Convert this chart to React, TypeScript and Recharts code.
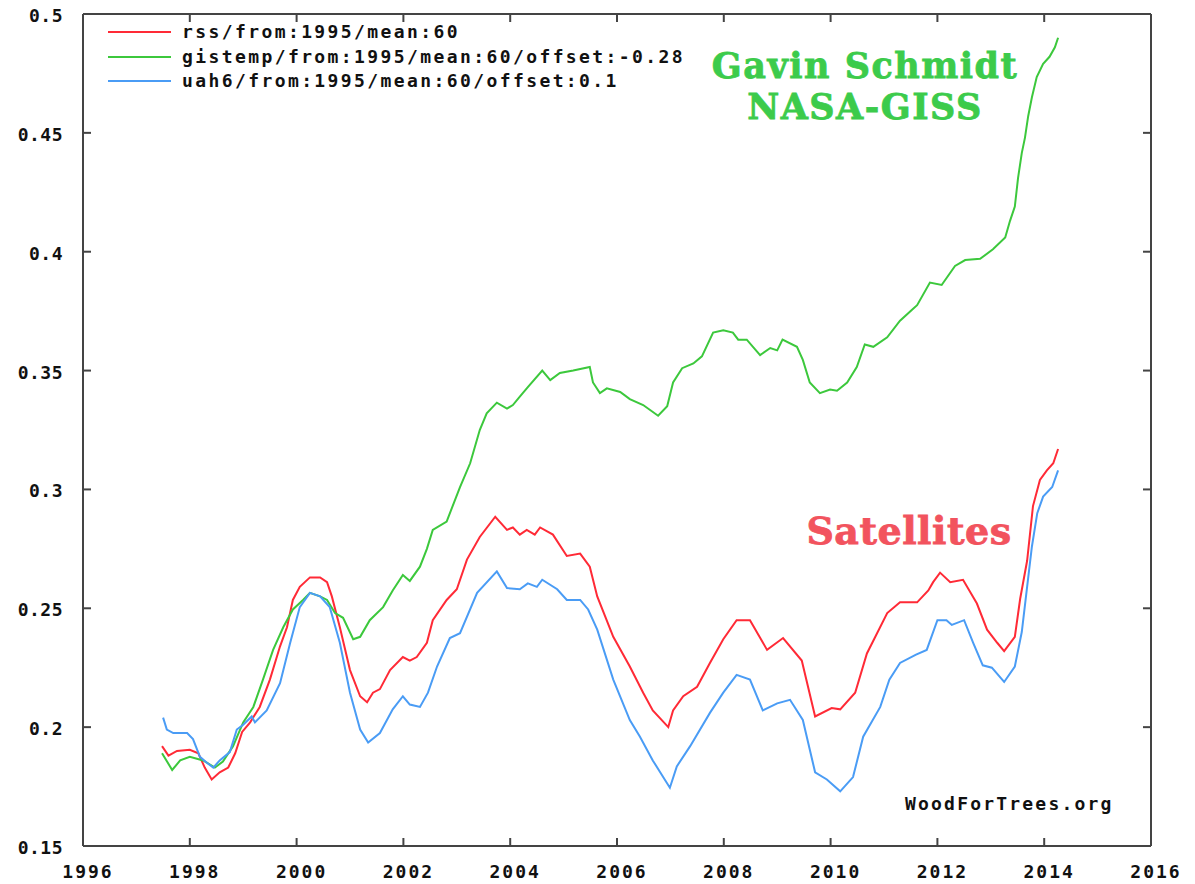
import React from 'react';
import { LineChart, Line, XAxis, YAxis, Legend } from 'recharts';

// woodfortrees 60-month means as [year, value]
const xTicks = [1996, 1998, 2000, 2002, 2004, 2006, 2008, 2010, 2012, 2014, 2016];
const yTicks = [0.15, 0.2, 0.25, 0.3, 0.35, 0.4, 0.45, 0.5];

const rssData: [number, number][] = [
  [1997.48, 0.192], [1997.6, 0.188], [1997.76, 0.19], [1998.0, 0.1905], [1998.16, 0.189],
  [1998.28, 0.183], [1998.41, 0.178], [1998.56, 0.181], [1998.72, 0.183], [1998.85, 0.189],
  [1998.98, 0.198], [1999.13, 0.202], [1999.31, 0.2085], [1999.5, 0.22], [1999.69, 0.234],
  [1999.82, 0.242], [1999.93, 0.2535], [2000.06, 0.259], [2000.25, 0.263], [2000.44, 0.263],
  [2000.57, 0.261], [2000.66, 0.255], [2000.81, 0.242], [2001.0, 0.224], [2001.19, 0.213],
  [2001.32, 0.2105], [2001.43, 0.2145], [2001.56, 0.216], [2001.75, 0.224], [2001.99, 0.2295],
  [2002.12, 0.228], [2002.25, 0.2295], [2002.44, 0.2355], [2002.55, 0.245], [2002.81, 0.2535],
  [2003.0, 0.258], [2003.19, 0.2705], [2003.43, 0.28], [2003.72, 0.2885], [2003.94, 0.283],
  [2004.05, 0.284], [2004.18, 0.281], [2004.31, 0.283], [2004.46, 0.281], [2004.56, 0.284],
  [2004.8, 0.281], [2005.06, 0.272], [2005.31, 0.273], [2005.49, 0.2675], [2005.63, 0.255],
  [2005.93, 0.238], [2006.24, 0.2255], [2006.49, 0.2145], [2006.67, 0.207], [2006.96, 0.2],
  [2007.05, 0.207], [2007.24, 0.213], [2007.5, 0.217], [2007.74, 0.227], [2007.99, 0.237],
  [2008.24, 0.245], [2008.49, 0.245], [2008.81, 0.2325], [2009.11, 0.2375], [2009.46, 0.228],
  [2009.71, 0.2045], [2010.02, 0.208], [2010.18, 0.2075], [2010.46, 0.2145], [2010.68, 0.231],
  [2011.06, 0.248], [2011.3, 0.2525], [2011.62, 0.2525], [2011.83, 0.2575], [2011.92, 0.261],
  [2012.05, 0.265], [2012.24, 0.261], [2012.48, 0.262], [2012.74, 0.252], [2012.93, 0.241],
  [2013.12, 0.2355], [2013.25, 0.232], [2013.45, 0.238], [2013.55, 0.254], [2013.68, 0.27],
  [2013.79, 0.293], [2013.92, 0.304], [2014.05, 0.308], [2014.17, 0.311], [2014.26, 0.317],
];

const gistempData: [number, number][] = [
  [1997.48, 0.189], [1997.67, 0.182], [1997.82, 0.186], [1998.0, 0.1875], [1998.25, 0.186],
  [1998.47, 0.183], [1998.62, 0.1855], [1998.81, 0.192], [1999.0, 0.202], [1999.19, 0.2085],
  [1999.37, 0.22], [1999.56, 0.2325], [1999.75, 0.242], [1999.93, 0.2495], [2000.12, 0.2535],
  [2000.25, 0.2565], [2000.44, 0.255], [2000.57, 0.2535], [2000.72, 0.248], [2000.87, 0.246],
  [2001.06, 0.237], [2001.19, 0.238], [2001.37, 0.245], [2001.62, 0.2505], [2001.8, 0.2575],
  [2001.99, 0.264], [2002.12, 0.2615], [2002.31, 0.2675], [2002.44, 0.275], [2002.55, 0.283],
  [2002.81, 0.2865], [2003.06, 0.301], [2003.25, 0.311], [2003.43, 0.325], [2003.56, 0.332],
  [2003.75, 0.3365], [2003.94, 0.334], [2004.05, 0.3355], [2004.18, 0.339], [2004.33, 0.343],
  [2004.6, 0.35], [2004.75, 0.346], [2004.93, 0.349], [2005.18, 0.35], [2005.49, 0.3515],
  [2005.55, 0.345], [2005.68, 0.3405], [2005.81, 0.3425], [2006.06, 0.341], [2006.24, 0.338],
  [2006.49, 0.3355], [2006.77, 0.331], [2006.94, 0.335], [2007.05, 0.345], [2007.22, 0.351],
  [2007.43, 0.353], [2007.59, 0.356], [2007.8, 0.366], [2007.99, 0.367], [2008.17, 0.366],
  [2008.27, 0.363], [2008.43, 0.363], [2008.68, 0.3565], [2008.87, 0.3595], [2009.0, 0.3585],
  [2009.1, 0.363], [2009.37, 0.36], [2009.48, 0.3545], [2009.61, 0.345], [2009.8, 0.3405],
  [2009.99, 0.342], [2010.12, 0.3415], [2010.31, 0.345], [2010.49, 0.3515], [2010.64, 0.361],
  [2010.8, 0.36], [2011.06, 0.364], [2011.3, 0.371], [2011.52, 0.3755], [2011.62, 0.3775],
  [2011.86, 0.387], [2012.08, 0.386], [2012.33, 0.394], [2012.52, 0.3965], [2012.8, 0.397],
  [2013.04, 0.401], [2013.27, 0.406], [2013.36, 0.413], [2013.45, 0.419], [2013.51, 0.431],
  [2013.58, 0.4415], [2013.64, 0.448], [2013.7, 0.457], [2013.77, 0.465], [2013.86, 0.4735],
  [2013.98, 0.479], [2014.1, 0.482], [2014.2, 0.486], [2014.26, 0.49],
];

const uahData: [number, number][] = [
  [1997.5, 0.204], [1997.57, 0.199], [1997.69, 0.1975], [1997.95, 0.1975], [1998.06, 0.195],
  [1998.19, 0.1875], [1998.32, 0.185], [1998.44, 0.183], [1998.56, 0.186], [1998.75, 0.1895],
  [1998.88, 0.199], [1999.0, 0.201], [1999.16, 0.2045], [1999.22, 0.202], [1999.44, 0.207],
  [1999.69, 0.2185], [1999.88, 0.2355], [2000.06, 0.2505], [2000.25, 0.2565], [2000.44, 0.255],
  [2000.62, 0.2505], [2000.81, 0.2355], [2001.0, 0.2145], [2001.19, 0.199], [2001.34, 0.1935],
  [2001.56, 0.1975], [2001.8, 0.2075], [2001.99, 0.213], [2002.12, 0.2095], [2002.31, 0.2085],
  [2002.46, 0.2145], [2002.63, 0.2255], [2002.87, 0.2375], [2003.06, 0.2395], [2003.38, 0.2565],
  [2003.75, 0.2655], [2003.94, 0.2585], [2004.18, 0.258], [2004.33, 0.2605], [2004.5, 0.259],
  [2004.6, 0.262], [2004.88, 0.258], [2005.06, 0.2535], [2005.31, 0.2535], [2005.46, 0.2495],
  [2005.63, 0.241], [2005.93, 0.22], [2006.24, 0.203], [2006.43, 0.196], [2006.67, 0.186],
  [2006.99, 0.1745], [2007.12, 0.1835], [2007.37, 0.192], [2007.74, 0.206], [2007.99, 0.2145],
  [2008.24, 0.222], [2008.49, 0.22], [2008.73, 0.207], [2009.0, 0.21], [2009.24, 0.2115],
  [2009.48, 0.203], [2009.71, 0.181], [2009.93, 0.178], [2010.18, 0.173], [2010.42, 0.179],
  [2010.61, 0.196], [2010.93, 0.2085], [2011.1, 0.22], [2011.3, 0.227], [2011.6, 0.2305],
  [2011.8, 0.2325], [2012.0, 0.245], [2012.17, 0.245], [2012.27, 0.243], [2012.5, 0.245],
  [2012.67, 0.2355], [2012.85, 0.226], [2013.02, 0.225], [2013.25, 0.219], [2013.45, 0.2255],
  [2013.58, 0.24], [2013.68, 0.259], [2013.77, 0.276], [2013.87, 0.29], [2013.98, 0.297],
  [2014.15, 0.301], [2014.26, 0.308],
];

const toPoints = (rows: [number, number][]) => rows.map(([year, value]) => ({ year, value }));

const series = [
  { name: 'rss/from:1995/mean:60', color: '#ff2a36', rows: rssData },
  { name: 'gistemp/from:1995/mean:60/offset:-0.28', color: '#3cc83c', rows: gistempData },
  { name: 'uah6/from:1995/mean:60/offset:0.1', color: '#4a9cf5', rows: uahData },
];

const MONO = '"DejaVu Sans Mono", "Liberation Mono", monospace';
const SLAB = '"DejaVu Serif", serif';
const AXIS = '#444';
const GREEN_TEXT = '#3ccb4b';
const RED_TEXT = '#f2535e';

function BottomTick({ x, y, payload }: any) {
  return (
    <g>
      <line x1={x} x2={x} y1={y} y2={y - 8} stroke={AXIS} strokeWidth={2} />
      <text x={x + 5} y={y + 32} textAnchor="middle" fontFamily={MONO} fontWeight="bold"
        fontSize={18} letterSpacing={2} fill="#111">
        {payload.value}
      </text>
    </g>
  );
}

function LeftTick({ x, y, payload }: any) {
  return (
    <g>
      <line x1={x} x2={x + 8} y1={y} y2={y} stroke={AXIS} strokeWidth={2} />
      <text x={x - 20} y={y + 8} textAnchor="end" fontFamily={MONO} fontWeight="bold"
        fontSize={18} letterSpacing={0.5} fill="#111">
        {String(payload.value)}
      </text>
    </g>
  );
}

const TopTick = ({ x, y }: any) => <line x1={x} x2={x} y1={y} y2={y + 8} stroke={AXIS} strokeWidth={2} />;
const RightTick = ({ x, y }: any) => <line x1={x} x2={x - 8} y1={y} y2={y} stroke={AXIS} strokeWidth={2} />;

function LegendBox() {
  return (
    <div style={{ fontFamily: MONO, fontWeight: 'bold', fontSize: 18, letterSpacing: 2.4, color: '#111' }}>
      {series.map((s) => (
        <div key={s.name} style={{ display: 'flex', alignItems: 'center', height: 24.5, whiteSpace: 'nowrap' }}>
          <svg width={63} height={4} style={{ display: 'block' }}>
            <line x1={0} x2={63} y1={2} y2={2} stroke={s.color} strokeWidth={2} />
          </svg>
          <span style={{ marginLeft: 11, lineHeight: '24px' }}>{s.name}</span>
        </div>
      ))}
    </div>
  );
}

const slabStyle = (color: string, size: number): React.CSSProperties => ({
  position: 'absolute', textAlign: 'center', fontFamily: SLAB, fontWeight: 'bold',
  fontSize: size, lineHeight: `${size + 2}px`, color, WebkitTextStroke: `0.8px ${color}`,
  whiteSpace: 'nowrap',
});

export default function App() {
  return (
    <div style={{ position: 'absolute', left: 0, top: 0, width: 1195, height: 884, background: '#fff' }}>
      <LineChart width={1195} height={884} margin={{ top: 13, right: 43, bottom: 0, left: 0 }}>
        <XAxis xAxisId="bottom" type="number" dataKey="year" domain={[1996, 2016]} ticks={xTicks}
          interval={0} height={38} tickSize={0} tickMargin={0} tickLine={false}
          axisLine={{ stroke: AXIS, strokeWidth: 2 }} tick={<BottomTick />} allowDataOverflow />
        <XAxis xAxisId="top" orientation="top" type="number" dataKey="year" domain={[1996, 2016]}
          ticks={xTicks} interval={0} height={1} tickSize={0} tickMargin={0} tickLine={false}
          axisLine={{ stroke: AXIS, strokeWidth: 2 }} tick={<TopTick />} allowDataOverflow />
        <YAxis yAxisId="left" type="number" domain={[0.15, 0.5]} ticks={yTicks} interval={0}
          width={83} tickSize={0} tickMargin={0} tickLine={false}
          axisLine={{ stroke: AXIS, strokeWidth: 2 }} tick={<LeftTick />} allowDataOverflow />
        <YAxis yAxisId="right" orientation="right" type="number" domain={[0.15, 0.5]} ticks={yTicks}
          interval={0} width={1} tickSize={0} tickMargin={0} tickLine={false}
          axisLine={{ stroke: AXIS, strokeWidth: 2 }} tick={<RightTick />} allowDataOverflow />
        <Legend layout="horizontal" verticalAlign="middle" align="center" content={<LegendBox />}
          wrapperStyle={{ position: 'absolute', left: 108, top: 20, width: 'auto' }} />
        {series.map((s) => (
          <Line key={s.name} xAxisId="bottom" yAxisId="left" data={toPoints(s.rows)} dataKey="value"
            name={s.name} type="linear" stroke={s.color} strokeWidth={2} dot={false}
            isAnimationActive={false} />
        ))}
      </LineChart>

      <div style={{ ...slabStyle(GREEN_TEXT, 35), left: 665, top: 47, width: 400, letterSpacing: 1.5 }}>
        Gavin Schmidt
      </div>
      <div style={{ ...slabStyle(GREEN_TEXT, 35), left: 665, top: 88, width: 400, letterSpacing: 1.5 }}>
        NASA-GISS
      </div>
      <div style={{ ...slabStyle(RED_TEXT, 38), left: 759, top: 511, width: 300, letterSpacing: 0.5 }}>
        Satellites
      </div>
      <div style={{ position: 'absolute', left: 905, top: 793, fontFamily: MONO, fontWeight: 'bold',
        fontSize: 18, letterSpacing: 2.2, color: '#111', whiteSpace: 'nowrap' }}>
        WoodForTrees.org
      </div>
    </div>
  );
}
